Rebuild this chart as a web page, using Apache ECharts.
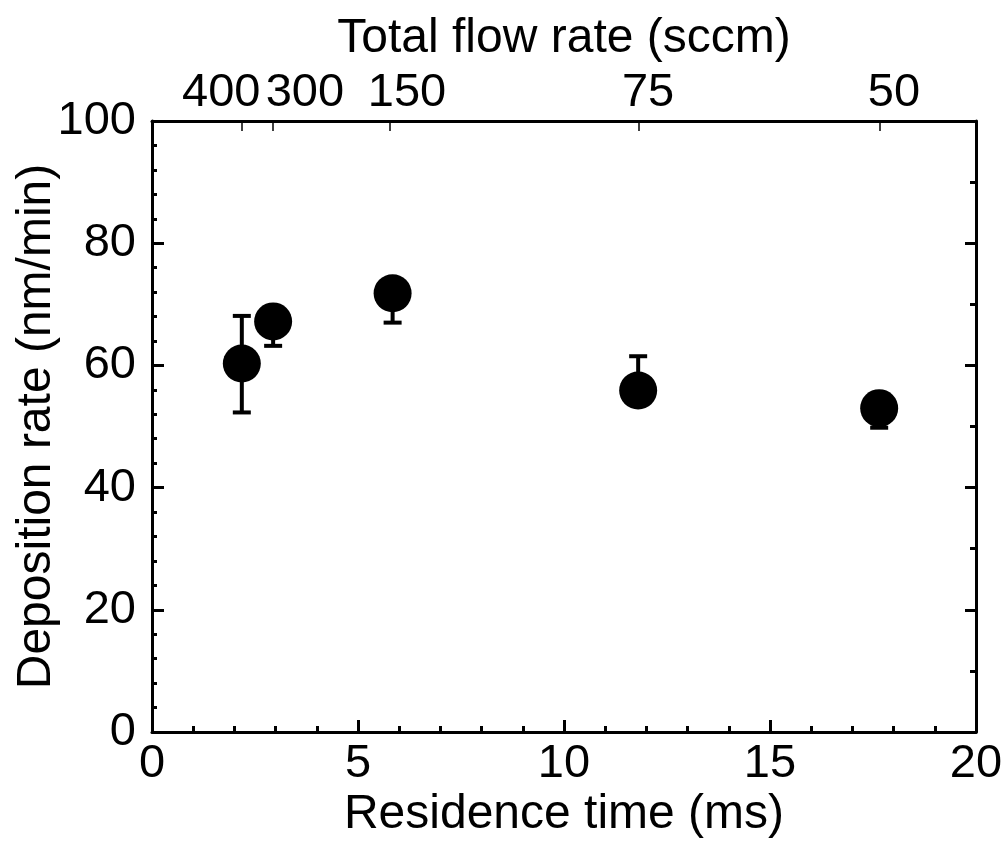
<!DOCTYPE html>
<html>
<head>
<meta charset="utf-8">
<script src="https://cdn.jsdelivr.net/npm/echarts@6/dist/echarts.min.js"></script>
<style>
  html, body { margin: 0; padding: 0; background: #fff; }
  #chart { width: 1007px; height: 847px; }
</style>
</head>
<body>
<div id="chart"></div>
<script>
// ---------- data ----------
const residenceTime = [2.18, 2.94, 5.84, 11.8, 17.65];      // ms
const depositionRate = [60.3, 67.2, 71.8, 55.9, 53.0];      // nm/min
const errLow  = [52.3, 63.2, 67.0, 55.9, 49.8];             // lower end of error bar
const errHigh = [68.1, 67.2, 71.8, 61.5, 53.0];             // upper end of error bar
const flowRates = ['400', '300', '150', '75', '50'];        // sccm (top axis labels)
const flowTickX = [2.18, 2.93, 5.78, 11.82, 17.67];         // residence time at each flow rate
const bottomTicks = [0, 5, 10, 15, 20];
const leftTicks = [0, 20, 40, 60, 80, 100];

// ---------- layout / style ----------
const FONT = "'Liberation Sans', Arial, sans-serif";
const labelShift = [-0.5, 0.78, 0.41, 0.22, 0.34]; // label offset from its tick (ms units)
const topLabelPos = flowTickX.map((v, i) => +(v + labelShift[i]).toFixed(3));

const chart = echarts.init(document.getElementById('chart'), null, { renderer: 'canvas' });

const axisLineStyle = { color: '#000', width: 3 };

const option = {
  backgroundColor: '#fff',
  animation: false,
  grid: { left: 152, top: 121, right: 31, bottom: 115, containLabel: false, outerBoundsMode: 'none' },
  xAxis: [
    {
      type: 'value', position: 'bottom', min: 0, max: 20, interval: 5,
      name: 'Residence time (ms)', nameLocation: 'middle', nameGap: 59, nameMoveOverlap: false,
      nameTextStyle: { fontFamily: FONT, fontSize: 48, color: '#000' },
      axisLine: { show: true, onZero: false, lineStyle: axisLineStyle },
      axisTick: { show: true, inside: true, length: 12, lineStyle: { color: '#000', width: 3 } },
      minorTick: { show: true, splitNumber: 5, length: 6, lineStyle: { color: '#000', width: 3 } },
      axisLabel: { show: true, margin: 9, fontFamily: FONT, fontSize: 47, color: '#000',
        showMinLabel: true, showMaxLabel: true,
        formatter: v => bottomTicks.includes(v) ? String(v) : '' },
      splitLine: { show: false }
    },
    {
      type: 'value', position: 'top', min: 0, max: 20,
      name: 'Total flow rate (sccm)', nameLocation: 'middle', nameGap: 58, nameMoveOverlap: false,
      nameTextStyle: { fontFamily: FONT, fontSize: 48, color: '#000' },
      axisLine: { show: true, onZero: false, lineStyle: axisLineStyle },
      axisTick: { show: true, inside: true, length: 10, customValues: flowTickX,
        lineStyle: { color: '#000', width: 1.5 } },
      axisLabel: { show: true, margin: 4, fontFamily: FONT, fontSize: 47, color: '#000',
        customValues: topLabelPos,
        formatter: v => {
          let best = 0, d = Infinity;
          topLabelPos.forEach((p, i) => { if (Math.abs(p - v) < d) { d = Math.abs(p - v); best = i; } });
          return flowRates[best];
        } },
      splitLine: { show: false }
    }
  ],
  yAxis: [
    {
      type: 'value', position: 'left', min: 0, max: 100, interval: 20,
      name: 'Deposition rate (nm/min)', nameLocation: 'middle', nameGap: 91, nameMoveOverlap: false,
      nameTextStyle: { fontFamily: FONT, fontSize: 48, color: '#000' },
      axisLine: { show: true, onZero: false, lineStyle: axisLineStyle },
      axisTick: { show: true, inside: true, length: 12, lineStyle: { color: '#000', width: 3 } },
      minorTick: { show: true, splitNumber: 5, length: 5, lineStyle: { color: '#000', width: 3 } },
      axisLabel: { show: true, margin: 16, fontFamily: FONT, fontSize: 47, color: '#000',
        formatter: v => leftTicks.includes(v) ? String(v) : '' },
      splitLine: { show: false }
    },
    {
      type: 'value', position: 'right', min: 0, max: 100, interval: 20,
      axisLine: { show: true, onZero: false, lineStyle: axisLineStyle },
      axisTick: { show: true, inside: true, length: 11, lineStyle: { color: '#000', width: 3 } },
      minorTick: { show: true, splitNumber: 2, length: 6, lineStyle: { color: '#000', width: 3 } },
      axisLabel: { show: false },
      splitLine: { show: false }
    }
  ],
  series: [
    {
      type: 'custom',
      xAxisIndex: 0, yAxisIndex: 0,
      z: 1,
      data: residenceTime.map((x, i) => [x, errLow[i], errHigh[i]]),
      renderItem: function (params, api) {
        const x = api.value(0);
        const lo = api.coord([x, api.value(1)]);
        const hi = api.coord([x, api.value(2)]);
        const capW = 9;
        const style = { stroke: '#000', lineWidth: 4 };
        return {
          type: 'group',
          children: [
            { type: 'line', shape: { x1: lo[0], y1: lo[1], x2: hi[0], y2: hi[1] }, style },
            { type: 'line', shape: { x1: lo[0] - capW, y1: lo[1], x2: lo[0] + capW, y2: lo[1] }, style },
            { type: 'line', shape: { x1: hi[0] - capW, y1: hi[1], x2: hi[0] + capW, y2: hi[1] }, style }
          ]
        };
      }
    },
    {
      type: 'scatter',
      xAxisIndex: 0, yAxisIndex: 0,
      z: 2,
      symbol: 'circle',
      symbolSize: 38,
      itemStyle: { color: '#000', opacity: 1 },
      data: residenceTime.map((x, i) => [x, depositionRate[i]])
    }
  ]
};

chart.setOption(option);
</script>
</body>
</html>
